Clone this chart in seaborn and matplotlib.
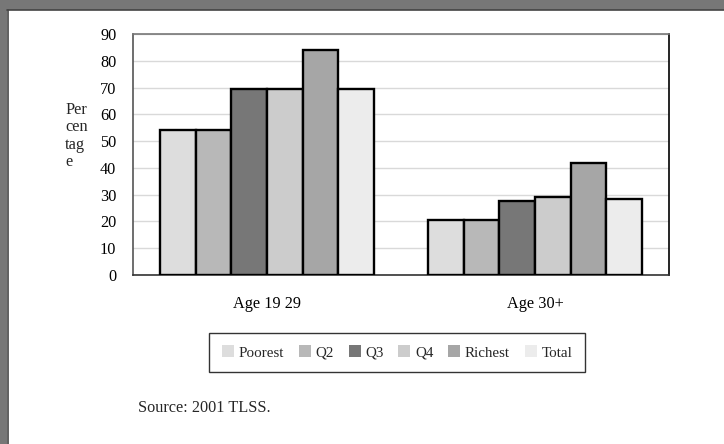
import matplotlib
matplotlib.use("Agg")
import matplotlib.pyplot as plt
import matplotlib.patches as mpatches
import seaborn as sns
import pandas as pd

# Share of each group, by welfare quintile
age_groups = ["Age 19 29", "Age 30+"]
quintiles = ["Poorest", "Q2", "Q3", "Q4", "Richest", "Total"]
age_19_29 = [54, 54, 69.3, 69.3, 84, 69.3]
age_30_plus = [20.5, 20.5, 27.6, 29.2, 41.8, 28.3]
y_ticks = [0, 10, 20, 30, 40, 50, 60, 70, 80, 90]

colors = ["#dddddd", "#b8b8b8", "#777777", "#cccccc", "#a6a6a6", "#ececec"]

df = pd.DataFrame({
    "group": [age_groups[0]] * len(quintiles) + [age_groups[1]] * len(quintiles),
    "quintile": quintiles * 2,
    "value": age_19_29 + age_30_plus,
})

sns.set_theme(style="white")
plt.rcParams["font.family"] = ["Liberation Serif", "DejaVu Serif"]
FS = 11.7

W, H = 724, 444
fig = plt.figure(figsize=(W / 100, H / 100), dpi=100)
fig.patch.set_facecolor("#777777")
# white page with a darker rim along its top and left edges
fig.patches.append(mpatches.Rectangle((7 / W, 0), 1, (H - 10) / H, transform=fig.transFigure,
                                      facecolor="white", edgecolor="none", zorder=-2))
fig.lines.append(plt.Line2D([7 / W, 1], [(H - 10.5) / H] * 2, transform=fig.transFigure,
                            color="#444444", lw=1.2, zorder=-1))
fig.lines.append(plt.Line2D([7.5 / W] * 2, [0, (H - 10.5) / H], transform=fig.transFigure,
                            color="#444444", lw=1.2, zorder=-1))

ax = fig.add_axes([133 / W, (H - 275) / H, (669 - 133) / W, (275 - 34) / H])
ax.set_facecolor("white")
sns.barplot(data=df, x="group", y="value", hue="quintile", order=age_groups,
            hue_order=quintiles, palette=colors, width=0.8, gap=0,
            edgecolor="black", linewidth=1.7, saturation=1, legend=False, ax=ax, zorder=3)

ax.set_ylim(0, 90)
ax.set_yticks(y_ticks)
ax.set_xlabel("")
ax.set_ylabel("")
ax.yaxis.grid(True, color="#d9d9d9", lw=1, zorder=0)
ax.set_axisbelow(True)
ax.tick_params(axis="y", length=0, pad=12, labelsize=FS, labelcolor="black")
ax.tick_params(axis="x", length=0, pad=15, labelsize=FS, labelcolor="black")
for side, c in [("top", "#777777"), ("left", "#555555"), ("right", "black"), ("bottom", "#333333")]:
    ax.spines[side].set_visible(True)
    ax.spines[side].set_color(c)
    ax.spines[side].set_linewidth(1.2)

fig.text(65 / W, 1 - 136 / H, "Per\ncen\ntag\ne", ha="left", va="center",
         fontsize=FS, linespacing=1.12)

handles = [mpatches.Patch(facecolor=c, edgecolor="none", label=q) for c, q in zip(colors, quintiles)]
leg = fig.legend(handles=handles, loc="center", bbox_to_anchor=(397 / W, 1 - 352.5 / H),
                 ncol=6, frameon=True, fontsize=10.8, handlelength=0.8, handleheight=0.85,
                 handletextpad=0.3, columnspacing=1.0, borderpad=0.85, fancybox=False,
                 borderaxespad=0)
leg.get_frame().set_edgecolor("black")
leg.get_frame().set_linewidth(1.0)

fig.text(138 / W, 1 - 408 / H, "Source: 2001 TLSS.", ha="left", va="center", fontsize=FS)

fig.savefig("out.png", dpi=100, facecolor=fig.get_facecolor())
